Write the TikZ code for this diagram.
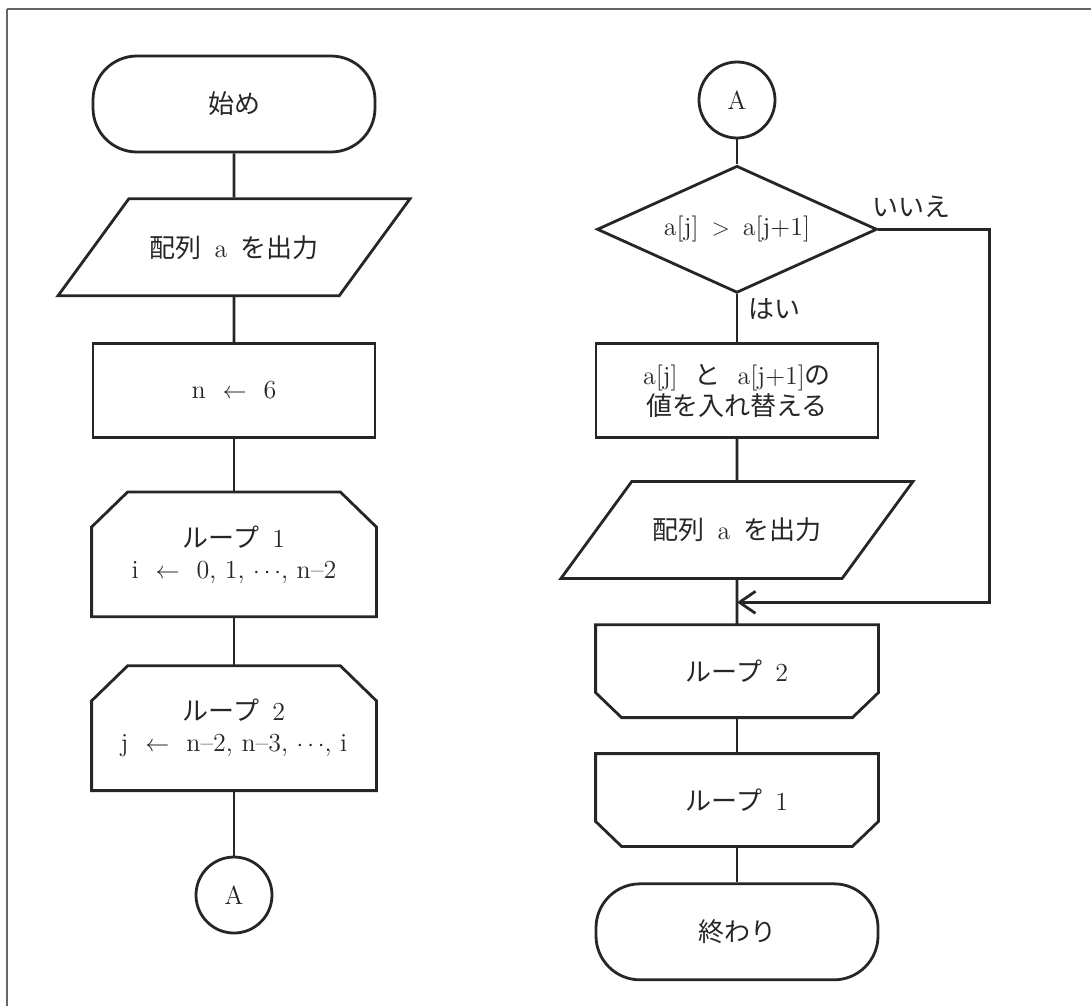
\documentclass[tikz,border=0pt]{standalone}
\usepackage{fontspec}
\newfontfamily\jp{Noto Sans CJK JP}
\usetikzlibrary{arrows.meta,positioning,shapes.geometric}

\begin{document}
\begin{tikzpicture}[x=0.5pt,y=-0.5pt,
    line/.style={draw=black!85,line width=1.4pt},
    base/.style={line,align=center,font=\fontsize{13}{15.5}\selectfont,text=black!85,inner sep=2pt},
    term/.style={base,rectangle,rounded corners=22pt,minimum width=141pt,minimum height=48pt},
    proc/.style={base,rectangle,minimum width=141pt,minimum height=47pt},
    io/.style={base,trapezium,trapezium left angle=53,trapezium right angle=127,
      trapezium stretches body,inner ysep=17.5pt,minimum width=176pt,minimum height=48.5pt},
    loopbeg/.style={base,draw=none,minimum width=141pt,minimum height=61pt,
      append after command={\pgfextra{\draw[line]
        ([yshift=-17.5pt]\tikzlastnode.north west) -- ([xshift=18pt]\tikzlastnode.north west)
        -- ([xshift=-18pt]\tikzlastnode.north east) -- ([yshift=-17.5pt]\tikzlastnode.north east)
        -- (\tikzlastnode.south east) -- (\tikzlastnode.south west) -- cycle;}}},
    loopend/.style={base,draw=none,minimum width=140pt,minimum height=45pt,
      append after command={\pgfextra{\draw[line]
        (\tikzlastnode.north west) -- (\tikzlastnode.north east)
        -- ([yshift=12.5pt]\tikzlastnode.south east) -- ([xshift=-13pt]\tikzlastnode.south east)
        -- ([xshift=13pt]\tikzlastnode.south west) -- ([yshift=12.5pt]\tikzlastnode.south west)
        -- cycle;}}},
    cond/.style={base,diamond,aspect=2.2,minimum width=140pt,minimum height=63.5pt,inner sep=0pt},
    conn/.style={base,circle,minimum size=38pt,inner sep=0pt},
    lbl/.style={font=\fontsize{13}{15}\selectfont\jp,text=black!85,inner sep=0pt},
    flow/.style={line},
    backflow/.style={line,-{Straight Barb[length=8pt,width=11pt]}},
    frameline/.style={draw=black!60,line width=1pt}
  ]
    \useasboundingbox (0,0) rectangle (1091,1006);
    \draw[frameline] (7,9) -- (1091,9);
    \draw[frameline] (7,9) -- (7,1006);

    % left column
    \node[term] (start) at (234,104) {\jp 始め};
    \node[io,below=22pt of start] (out1) {{\jp 配列}\enspace a\enspace{\jp を出力}};
    \node[proc,below=22.5pt of out1] (init) {n\ \ $\leftarrow$\ \ 6};
    \node[loopbeg,below=26.5pt of init] (loop1) {{\jp ループ}\enspace 1\\
      i\ \ $\leftarrow$\ \ 0, 1, $\cdots$, n\textendash2};
    \node[loopbeg,below=24.5pt of loop1] (loop2) {{\jp ループ}\enspace 2\\
      j\ \ $\leftarrow$\ \ n\textendash2, n\textendash3, $\cdots$, i};
    \node[conn,below=32.5pt of loop2] (conA) {A};

    % right column
    \node[conn] (conB) at (737,100) {A};
    \node[cond,below=12.5pt of conB] (test) {a[j]\enspace$>$\enspace a[j+1]};
    \node[proc,below=24pt of test] (swap) {a[j]\ \ {\jp と}\ \ a[j+1]{\jp の}\\{\jp 値を入れ替える}};
    \node[io,below=20.5pt of swap] (out2) {{\jp 配列}\enspace a\enspace{\jp を出力}};
    \node[loopend,below=22.5pt of out2] (end2) {{\jp ループ}\enspace 2};
    \node[loopend,below=18pt of end2] (end1) {{\jp ループ}\enspace 1};
    \node[term,below=18pt of end1] (stop) {\jp 終わり};

    \draw[flow] (start) -- (out1);
    \draw[flow] (out1) -- (init);
    \draw[flow] (init) -- (loop1);
    \draw[flow] (loop1) -- (loop2);
    \draw[flow] (loop2) -- (conA);

    \draw[flow] (conB) -- (test);
    \draw[flow] (test) -- node[lbl,pos=0.3,right=5pt]{はい} (swap);
    \draw[flow] (swap) -- (out2);
    \draw[flow] (out2) -- coordinate[pos=0.5] (merge) (end2);
    \draw[flow] (end2) -- (end1);
    \draw[flow] (end1) -- (stop);
    \draw[backflow] (test.east) -- node[lbl,pos=0.3,above=5pt]{いいえ} ++(111,0) |- (merge);
\end{tikzpicture}
\end{document}
